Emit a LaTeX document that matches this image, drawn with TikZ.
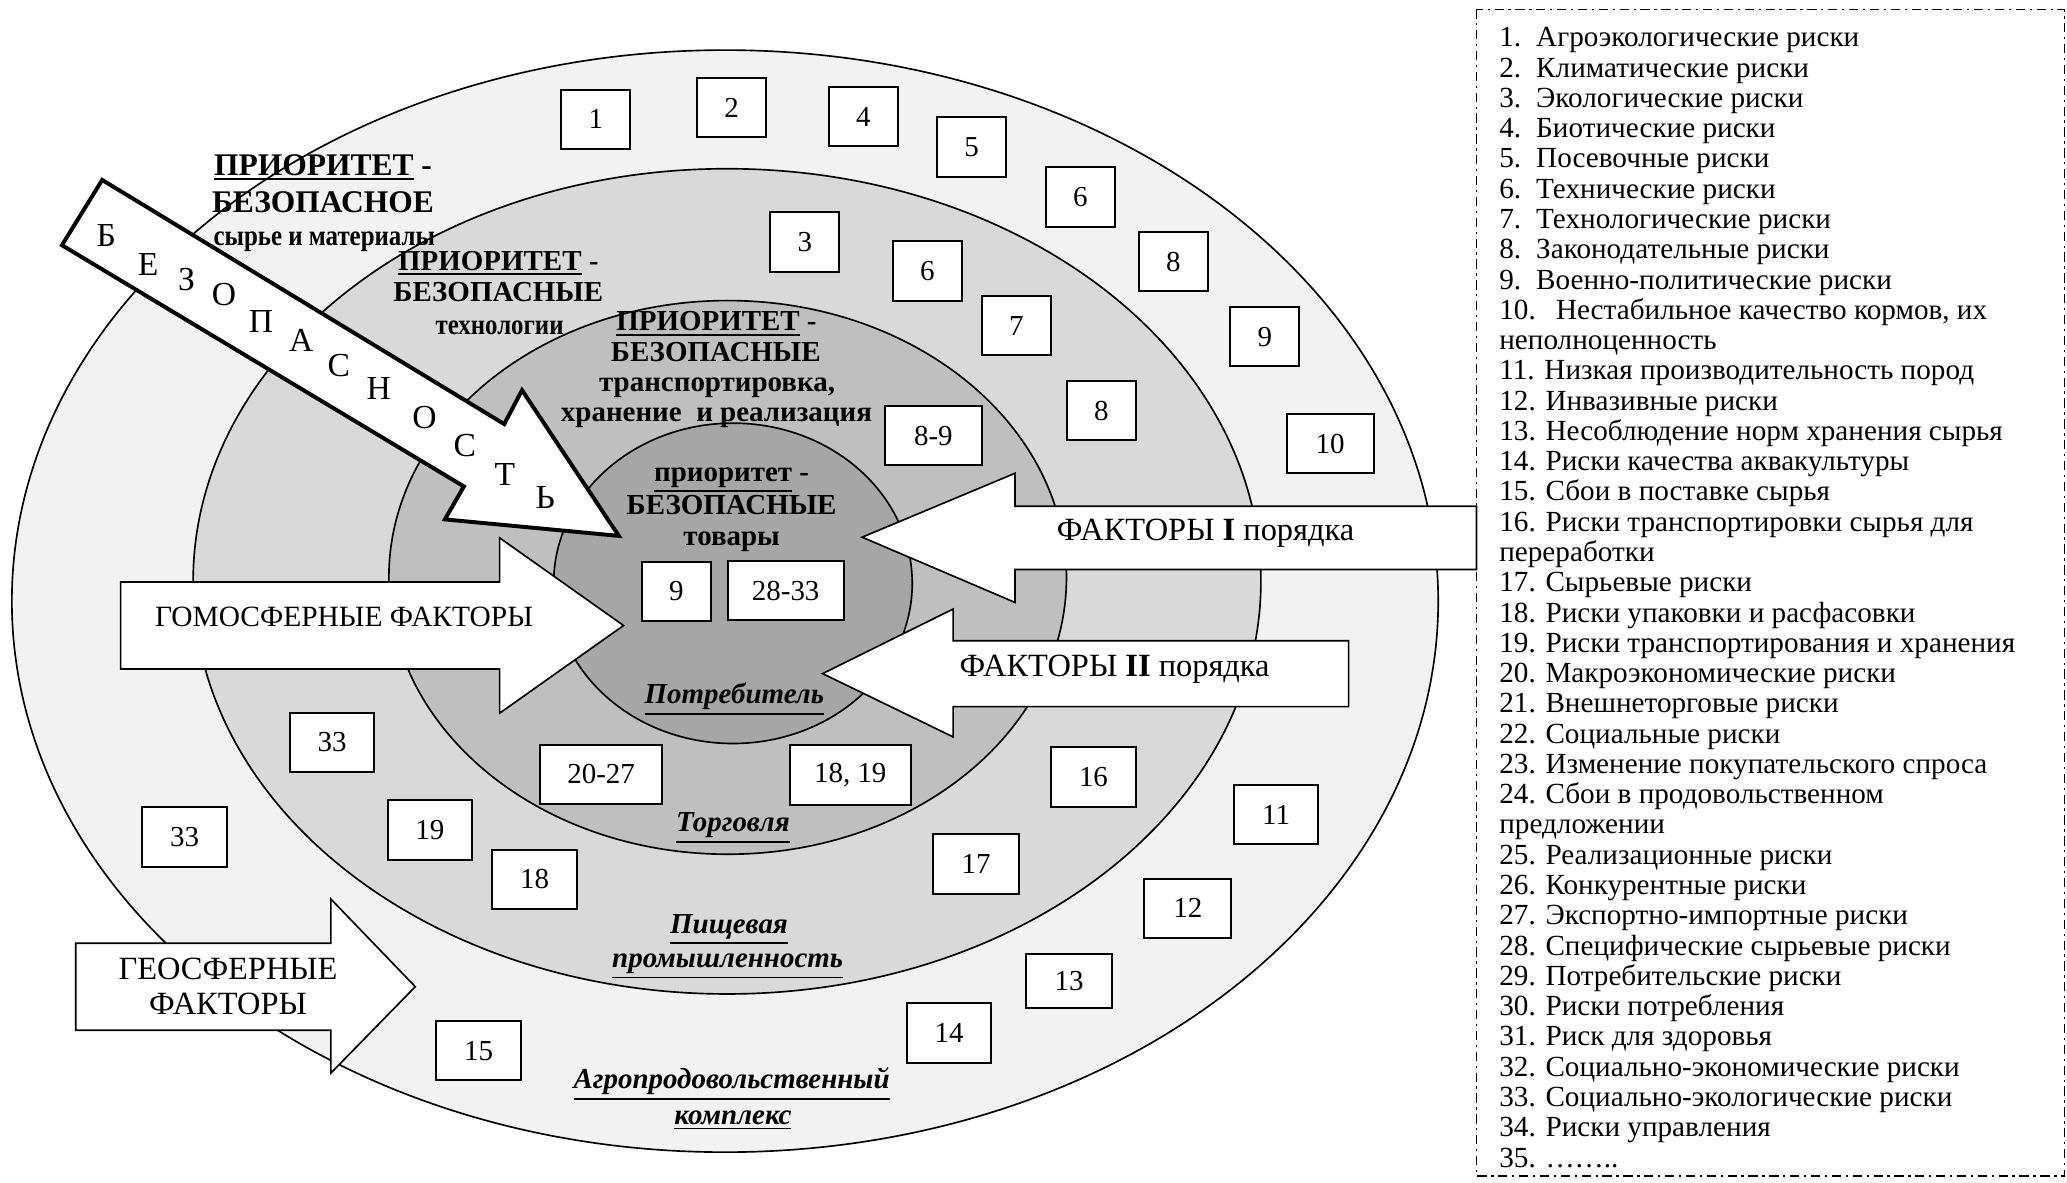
\documentclass[tikz,border=0pt]{standalone}
\usepackage{fontspec}
\setmainfont{Liberation Serif}
\usepackage{xcolor}

\newcommand{\thul}[1]{\vtop{\hbox{#1}\kern1.2pt\hrule height 0.8pt}}

\begin{document}
\begin{tikzpicture}[x=0.2mm, y=-0.2mm,
  riskbox/.style={draw, fill=white, line width=0.3mm, minimum width=10.5mm, minimum height=9mm, inner sep=0pt, font=\fontsize{12.5}{14}\selectfont},
  factor/.style={draw, fill=white, line width=0.25mm},
  flabel/.style={anchor=base, inner sep=0pt, font=\fontsize{14}{16}\selectfont},
  prio/.style={anchor=base, inner sep=0pt, font=\bfseries\fontsize{12.5}{14}\selectfont},
  sector/.style={anchor=base, inner sep=0pt, font=\bfseries\itshape\fontsize{12.5}{14}\selectfont},
  letter/.style={inner sep=0pt, font=\fontsize{14.5}{16}\selectfont}]

\useasboundingbox (0,0) rectangle (1568,897);
%\draw [help lines] (0,0) grid [step=50] (1568,897);

\filldraw [fill=black!5, line width=0.25mm] (550,456) ellipse [x radius=541, y radius=418];
\filldraw [fill=black!15, line width=0.25mm] (551.5,441) ellipse [x radius=405, y radius=313];
\filldraw [fill=black!25, line width=0.25mm] (552,438) ellipse [x radius=257, y radius=210];
\filldraw [fill=black!35, line width=0.25mm] (556,442.5) ellipse [x radius=136, y radius=121.5];


\node (pa1) [prio, font=\bfseries\fontsize{13.6}{15}\selectfont] at (245,133) {\thul{ПРИОРИТЕТ} -};
\node (pa2) [prio, font=\bfseries\fontsize{13.6}{15}\selectfont] at (245,161) {БЕЗОПАСНОЕ};
\node (pa3) [prio, xscale=0.86] at (246,186) {сырье и материалы};

\node (pb1) [prio] at (378,205) {\thul{ПРИОРИТЕТ} -};
\node (pb2) [prio] at (378,229) {БЕЗОПАСНЫЕ};
\node (pb3) [prio, xscale=0.86] at (379,254) {технологии};

\node (pc1) [prio] at (543.5,251) {\thul{ПРИОРИТЕТ} -};
\node (pc2) [prio] at (543,274) {БЕЗОПАСНЫЕ};
\node (pc3) [prio] at (544,297) {транспортировка,};
\node (pc4) [prio] at (543.5,320) {хранение\ \ и реализация};

\node (pd1) [prio] at (555,365) {\thul{приоритет} -};
\node (pd2) [prio] at (555,390) {БЕЗОПАСНЫЕ};
\node (pd3) [prio] at (555,414) {товары};


\node (s1) [sector] at (557,534) {\thul{Потребитель}};
\node (s2) [sector] at (556,631) {\thul{Торговля}};
\node (s3) [sector] at (553,708) {\thul{Пищевая}};
\node (s4) [sector] at (552,734) {\thul{промышленность}};
\node (s5) [sector] at (555,826) {\thul{Агропродовольственный}};
\node (s6) [sector] at (556,853) {\thul{комплекс}};


\node (r1) [riskbox] at (452,90.5) {1};
\node (r2) [riskbox] at (555,81.5) {2};
\node (r4) [riskbox] at (655,88.5) {4};
\node (r5) [riskbox] at (737,111.5) {5};
\node (r6a) [riskbox] at (819.5,149.5) {6};
\node (r8a) [riskbox] at (890,198.5) {8};
\node (r9a) [riskbox] at (959.5,255.5) {9};
\node (r10) [riskbox, minimum width=13.2mm] at (1009,336.5) {10};
\node (r11) [riskbox, minimum width=12.8mm] at (968,618) {11};
\node (r12) [riskbox, minimum width=13.2mm] at (901,689) {12};
\node (r13) [riskbox, minimum width=13mm, minimum height=8.2mm] at (811,744.5) {13};
\node (r14) [riskbox, minimum width=12.8mm] at (720,783.5) {14};
\node (r15) [riskbox, minimum width=12.8mm] at (363,797) {15};
\node (r33a) [riskbox, minimum width=12.8mm] at (140,635) {33};

\node (r3) [riskbox] at (610.5,183.5) {3};
\node (r6b) [riskbox] at (703.5,205.5) {6};
\node (r7) [riskbox] at (771,247) {7};
\node (r8b) [riskbox] at (835.5,311.5) {8};
\node (r16) [riskbox, minimum width=13mm] at (829.5,589.5) {16};
\node (r17) [riskbox, minimum width=13mm] at (740.5,655.5) {17};
\node (r33b) [riskbox, minimum width=12.8mm] at (252,563) {33};
\node (r19) [riskbox, minimum width=12.8mm] at (326,629.5) {19};
\node (r18) [riskbox, minimum width=12.8mm] at (405.5,667) {18};

\node (r89) [riskbox, minimum width=14.8mm] at (708,330.5) {8-9};
\node (r2027) [riskbox, minimum width=18.4mm] at (456,587.5) {20-27};
\node (r1819) [riskbox, minimum width=18.4mm] at (645,588) {18, 19};

\node (r9c) [riskbox] at (513,448.5) {9};
\node (r2833) [riskbox, minimum width=17.6mm] at (596,448) {28-33};


\filldraw [factor] (1120,384) -- (770,384) -- (770,359) -- (654,407.5) -- (770,457) -- (770,432) -- (1120,432) -- cycle;
\node (f1) [flabel] at (914.5,410) {ФАКТОРЫ \textbf{I} порядка};

\filldraw [factor] (1023,486) -- (723,486) -- (723,462) -- (624,511) -- (723,559) -- (723,536) -- (1023,536) -- cycle;
\node (f2) [flabel] at (845.5,513) {ФАКТОРЫ \textbf{II} порядка};

\filldraw [factor] (91.5,441.5) -- (379,441.5) -- (379,408) -- (473,474.5) -- (379,541) -- (379,507.5) -- (91.5,507.5) -- cycle;
\node (fh) [flabel, font=\fontsize{12.7}{14}\selectfont] at (261,475.5) {ГОМОСФЕРНЫЕ ФАКТОРЫ};

\filldraw [factor] (57.5,715.5) -- (251,715.5) -- (251,682) -- (315,748.5) -- (251,814) -- (251,781.5) -- (57.5,781.5) -- cycle;
\node (fg1) [flabel] at (173,743) {ГЕОСФЕРНЫЕ};
\node (fg2) [flabel] at (173,769.5) {ФАКТОРЫ};


\filldraw [fill=white, line width=0.6mm, line join=miter] (77.5,136.5) -- (382.5,321.7) -- (396,296) -- (469.4,406.5) -- (337.5,394) -- (351.9,369) -- (47,186) -- cycle;

\node (l1) [letter] at (80.7,178.6) {Б};
\node (l2) [letter] at (112.4,200.3) {Е};
\node (l3) [letter] at (141.5,212) {З};
\node (l4) [letter] at (170,223.5) {О};
\node (l5) [letter] at (198,244) {П};
\node (l6) [letter] at (228.6,258.4) {А};
\node (l7) [letter] at (257,277) {С};
\node (l8) [letter] at (287.4,294.6) {Н};
\node (l9) [letter] at (322,316.6) {О};
\node (l10) [letter] at (352.7,338) {С};
\node (l11) [letter] at (383,360) {Т};
\node (l12) [letter] at (413.6,377.4) {Ь};


\draw [line width=0.2mm, dash pattern=on 4pt off 2pt on 1pt off 2pt] (1120,7) rectangle (1566,892);

\node (risklist) [anchor=north west, align=left, inner sep=0pt, font=\fontsize{12.6}{13.07}\selectfont] at (1137,20.5) {%
\makebox[5.6mm][l]{1.}Агроэкологические риски\\
\makebox[5.6mm][l]{2.}Климатические риски\\
\makebox[5.6mm][l]{3.}Экологические риски\\
\makebox[5.6mm][l]{4.}Биотические риски\\
\makebox[5.6mm][l]{5.}Посевочные риски\\
\makebox[5.6mm][l]{6.}Технические риски\\
\makebox[5.6mm][l]{7.}Технологические риски\\
\makebox[5.6mm][l]{8.}Законодательные риски\\
\makebox[5.6mm][l]{9.}Военно-политические риски\\
\makebox[8.6mm][l]{10.}Нестабильное качество кормов, их\\
неполноценность\\
11. Низкая производительность пород\\
12. Инвазивные риски\\
13. Несоблюдение норм хранения сырья\\
14. Риски качества аквакультуры\\
15. Сбои в поставке сырья\\
16. Риски транспортировки сырья для\\
переработки\\
17. Сырьевые риски\\
18. Риски упаковки и расфасовки\\
19. Риски транспортирования и хранения\\
20. Макроэкономические риски\\
21. Внешнеторговые риски\\
22. Социальные риски\\
23. Изменение покупательского спроса\\
24. Сбои в продовольственном\\
предложении\\
25. Реализационные риски\\
26. Конкурентные риски\\
27. Экспортно-импортные риски\\
28. Специфические сырьевые риски\\
29. Потребительские риски\\
30. Риски потребления\\
31. Риск для здоровья\\
32. Социально-экономические риски\\
33. Социально-экологические риски\\
34. Риски управления\\
35. ……..};

\end{tikzpicture}
\end{document}
